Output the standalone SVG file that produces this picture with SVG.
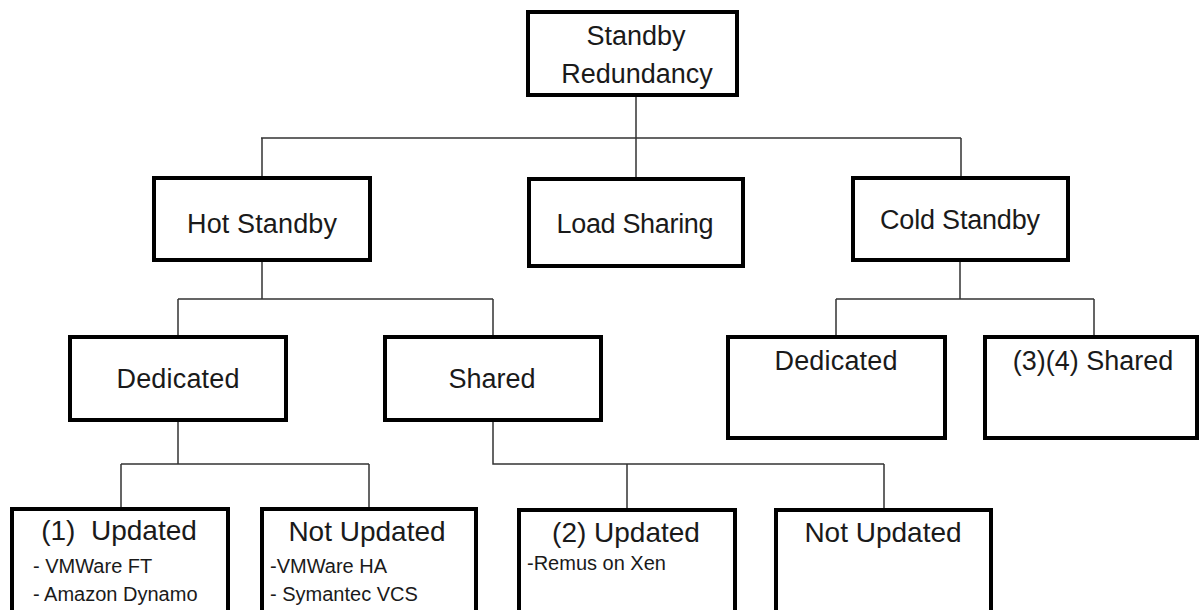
<svg xmlns="http://www.w3.org/2000/svg" width="1199" height="610" viewBox="0 0 1199 610">
  <style>
    .box { fill: #ffffff; stroke: #000000; stroke-width: 4; }
    .link { fill: none; stroke: #333333; stroke-width: 1.5; }
    .title { font-family: "Liberation Sans", Arial, sans-serif; font-size: 27px; fill: #1a1a1a; text-anchor: middle; }
    .big { font-size: 28px; }
    .item { font-family: "Liberation Sans", Arial, sans-serif; font-size: 20px; fill: #1a1a1a; }
  </style>
  <rect width="1199" height="610" fill="#ffffff"/>

  <!-- tree connectors -->
  <g id="connectors" class="link">
    <path d="M636 97 V138 M261 138 H961 M262 138 V176 M636 138 V177 M961 138 V176"/>
    <path d="M262 262 V299 M178 299 H493 M178 299 V335 M493 299 V335"/>
    <path d="M960 262 V299 M836 299 H1094 M836 299 V335 M1094 299 V335"/>
    <path d="M178 422 V464 M121 464 H369 M121 464 V508 M369 464 V508"/>
    <path d="M493 422 V464 H884 M627 464 V508 M884 464 V508"/>
  </g>

  <g id="standby-redundancy">
    <rect class="box" x="528" y="12" width="209" height="83"/>
    <text class="title" x="636" y="45">Standby</text>
    <text class="title" x="637" y="83">Redundancy</text>
  </g>

  <g id="hot-standby">
    <rect class="box" x="154" y="178" width="216" height="82"/>
    <text class="title" x="262" y="233" textLength="150" lengthAdjust="spacing">Hot Standby</text>
  </g>

  <g id="load-sharing">
    <rect class="box" x="529" y="179" width="214" height="87"/>
    <text class="title" x="635" y="233" textLength="157" lengthAdjust="spacing">Load Sharing</text>
  </g>

  <g id="cold-standby">
    <rect class="box" x="853" y="178" width="215" height="82"/>
    <text class="title" x="960" y="229" textLength="160" lengthAdjust="spacing">Cold Standby</text>
  </g>

  <g id="hot-dedicated">
    <rect class="box" x="70" y="337" width="216" height="83"/>
    <text class="title" x="178" y="388" textLength="123" lengthAdjust="spacing">Dedicated</text>
  </g>

  <g id="hot-shared">
    <rect class="box" x="385" y="337" width="216" height="83"/>
    <text class="title" x="492" y="388">Shared</text>
  </g>

  <g id="cold-dedicated">
    <rect class="box" x="728" y="337" width="217" height="101"/>
    <text class="title" x="836" y="370" textLength="123" lengthAdjust="spacing">Dedicated</text>
  </g>

  <g id="cold-shared">
    <rect class="box" x="985" y="337" width="212" height="101"/>
    <text class="title" x="1093" y="370">(3)(4) Shared</text>
  </g>

  <g id="dedicated-updated">
    <rect class="box" x="12" y="509" width="216" height="120"/>
    <text class="title big" x="119" y="540" xml:space="preserve">(1)  Updated</text>
    <text class="item" x="33" y="573">- VMWare FT</text>
    <text class="item" x="33" y="601">- Amazon Dynamo</text>
  </g>

  <g id="dedicated-not-updated">
    <rect class="box" x="262" y="509" width="214" height="120"/>
    <text class="title big" x="367" y="541">Not Updated</text>
    <text class="item" x="270" y="573">-VMWare HA</text>
    <text class="item" x="270" y="601">- Symantec VCS</text>
  </g>

  <g id="shared-updated">
    <rect class="box" x="519" y="510" width="216" height="120"/>
    <text class="title big" x="626" y="542">(2) Updated</text>
    <text class="item" x="527" y="570">-Remus on Xen</text>
  </g>

  <g id="shared-not-updated">
    <rect class="box" x="776" y="510" width="215" height="120"/>
    <text class="title big" x="883" y="542">Not Updated</text>
  </g>
</svg>
